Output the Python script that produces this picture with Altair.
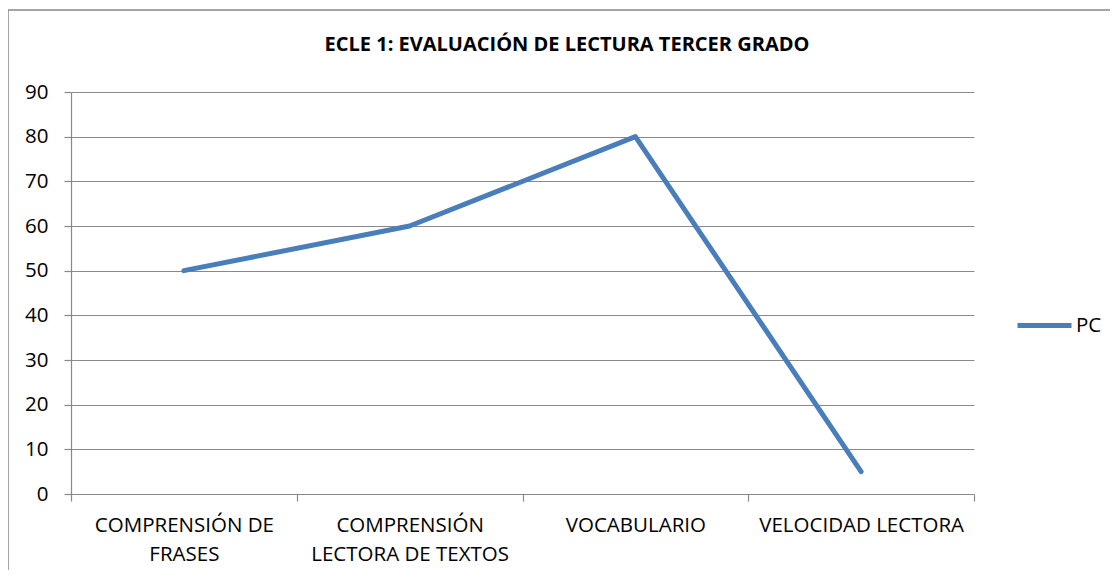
import altair as alt
import pandas as pd

title_text = ["ECLE 1: EVALUACIÓN DE LECTURA TERCER GRADO"]
categories = ["COMPRENSIÓN DE|FRASES", "COMPRENSIÓN|LECTORA DE TEXTOS", "VOCABULARIO", "VELOCIDAD LECTORA"]
values = [50, 60, 80, 5]
series = ["PC", "PC", "PC", "PC"]

df = pd.DataFrame({"cat": categories, "val": values, "serie": series})

FONT = "Open Sans"
GRID = "#898989"

frame = alt.Chart(pd.DataFrame({"a": [0]})).mark_rect(
    fill=None, stroke=GRID, strokeWidth=1.5
).encode(
    x=alt.value(-63), y=alt.value(-82), x2=alt.value(1200), y2=alt.value(700)
)

title = alt.Chart(pd.DataFrame({"t": title_text})).mark_text(
    font=FONT, fontSize=20, fontWeight="bold", color="#000", align="center", baseline="alphabetic"
).encode(text="t:N", x=alt.value(496), y=alt.value(-41))

line = alt.Chart(df).mark_line(strokeWidth=5, strokeCap="round", strokeJoin="round").encode(
    x=alt.X("cat:N", sort=categories, bandPosition=0.5,
            scale=alt.Scale(type="band", paddingInner=0, paddingOuter=0),
            axis=alt.Axis(title=None, labelAngle=0, labelExpr="split(datum.label, '|')",
                          tickBand="extent", grid=False, domain=False, tickSize=7,
                          tickColor=GRID, tickWidth=1.2, labelFontSize=20.5, labelFont=FONT,
                          labelColor="#000", labelPadding=14, labelLineHeight=29,
                          labelBaseline="top", labelLimit=0)),
    y=alt.Y("val:Q", scale=alt.Scale(domain=[0, 90], nice=False),
            axis=alt.Axis(title=None, values=list(range(0, 100, 10)), grid=True, gridColor=GRID,
                          gridWidth=1.2, domainColor=GRID, domainWidth=1.2, tickColor=GRID,
                          tickWidth=1.2, tickSize=7, labelPadding=16, labelFontSize=20.5,
                          labelFont=FONT, labelColor="#000")),
    color=alt.Color("serie:N", scale=alt.Scale(range=["#4A7EBB"]),
                    legend=alt.Legend(title=None, orient="none", legendX=944, legendY=204,
                                      symbolType="stroke", symbolSize=2916, symbolStrokeWidth=5,
                                      labelFontSize=20.5, labelFont=FONT, labelColor="#000",
                                      labelOffset=2))
)

chart = alt.layer(frame, title, line).properties(
    width=903, height=402,
    padding={"left": 63, "top": 84, "right": 136, "bottom": 76},
    autosize=alt.AutoSizeParams(type="none"),
).configure_view(stroke=None)

chart.save("out.html", embed_options={"renderer": "svg", "actions": False})
